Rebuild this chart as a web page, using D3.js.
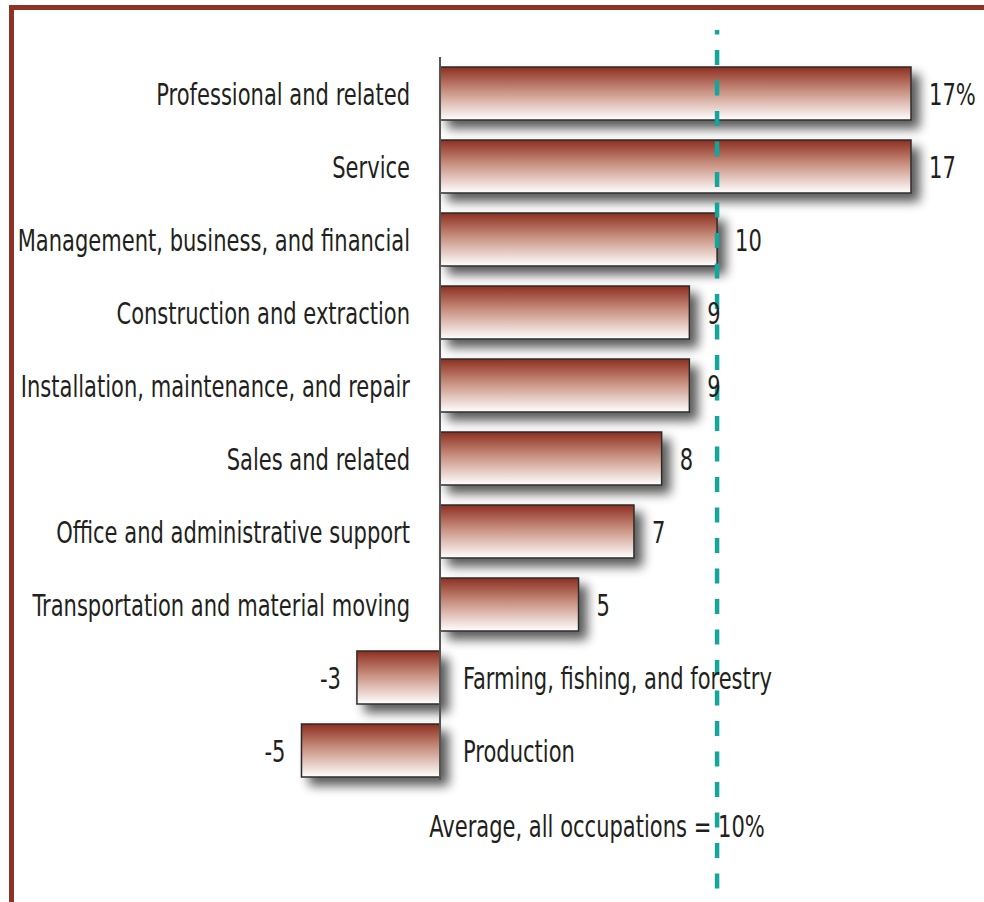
<!DOCTYPE html>
<html>
<head>
<meta charset="utf-8">
<script src="https://cdn.jsdelivr.net/npm/d3@7"></script>
<style>
  body { margin: 0; background: #fff; }
  svg text { font-family: "DejaVu Sans Condensed", "Liberation Sans Narrow", sans-serif; fill: #231f20; }
</style>
</head>
<body>
<svg id="chart" width="984" height="902"></svg>
<script>
// data
var categories = [
  "Professional and related",
  "Service",
  "Management, business, and financial",
  "Construction and extraction",
  "Installation, maintenance, and repair",
  "Sales and related",
  "Office and administrative support",
  "Transportation and material moving",
  "Farming, fishing, and forestry",
  "Production"
];
var values = [17, 17, 10, 9, 9, 8, 7, 5, -3, -5];
var valueLabels = ["17%", "17", "10", "9", "9", "8", "7", "5", "-3", "-5"];
var average = 10;
var averageLabel = "Average, all occupations = 10%";

var data = categories.map(function(c, i) {
  return { cat: c, value: values[i], label: valueLabels[i] };
});

var svg = d3.select("#chart");
var squeeze = 0.78;   // text is a tall condensed face
var fontSize = "30px";

// frame
svg.append("rect")
  .attr("x", 11.5).attr("y", 7.5)
  .attr("width", 1100).attr("height", 1000)
  .attr("fill", "none")
  .attr("stroke", "#8e3226")
  .attr("stroke-width", 5);

var defs = svg.append("defs");

var grad = defs.append("linearGradient")
  .attr("id", "barGrad")
  .attr("x1", 0).attr("y1", 0).attr("x2", 0).attr("y2", 1);
grad.append("stop").attr("offset", "0%").attr("stop-color", "#8d2f1f");
grad.append("stop").attr("offset", "45%").attr("stop-color", "#c89080");
grad.append("stop").attr("offset", "100%").attr("stop-color", "#ffffff");

var filter = defs.append("filter")
  .attr("id", "shadow")
  .attr("x", "-20%").attr("y", "-30%")
  .attr("width", "150%").attr("height", "190%");
filter.append("feGaussianBlur").attr("in", "SourceAlpha").attr("stdDeviation", 5.5).attr("result", "blur");
filter.append("feOffset").attr("in", "blur").attr("dx", 8).attr("dy", 8).attr("result", "off");
filter.append("feComponentTransfer").attr("in", "off").attr("result", "shadow")
  .append("feFuncA").attr("type", "linear").attr("slope", 0.65);
var merge = filter.append("feMerge");
merge.append("feMergeNode").attr("in", "shadow");
merge.append("feMergeNode").attr("in", "SourceGraphic");

var x = d3.scaleLinear()
  .domain([-5, 17])
  .range([301.5, 911]);

var y = d3.scaleBand()
  .domain(categories)
  .range([57, 787])
  .paddingInner(0.274)
  .paddingOuter(0.137);

// bars
svg.selectAll(".bar")
  .data(data)
  .enter().append("rect")
  .attr("class", "bar")
  .attr("x", function(d) { return x(Math.min(0, d.value)); })
  .attr("y", function(d) { return y(d.cat); })
  .attr("width", function(d) { return Math.abs(x(d.value) - x(0)); })
  .attr("height", y.bandwidth())
  .attr("fill", "url(#barGrad)")
  .attr("stroke", "#2b2b2b")
  .attr("stroke-width", 1.5)
  .attr("filter", "url(#shadow)");

// zero axis line
svg.append("line")
  .attr("x1", x(0)).attr("x2", x(0))
  .attr("y1", 57).attr("y2", 780)
  .attr("stroke", "#555")
  .attr("stroke-width", 2);

// average line
svg.append("line")
  .attr("x1", x(average)).attr("x2", x(average))
  .attr("y1", 30).attr("y2", 889)
  .attr("stroke", "#13a69c")
  .attr("stroke-width", 4.5)
  .attr("stroke-dasharray", "15,15.5")
  .attr("stroke-dashoffset", 10.5);

function squeezed(sel, fx, fy) {
  sel.attr("transform", function(d) {
      return "translate(" + fx(d) + "," + fy(d) + ") scale(" + squeeze + ",1)";
    })
    .attr("dy", "0.39em")
    .style("font-size", fontSize);
}

// category labels
svg.selectAll(".cat")
  .data(data)
  .enter().append("text")
  .attr("class", "cat")
  .call(squeezed,
    function(d) { return d.value >= 0 ? x(0) - 30 : x(0) + 23; },
    function(d) { return y(d.cat) + y.bandwidth() / 2; })
  .attr("text-anchor", function(d) { return d.value >= 0 ? "end" : "start"; })
  .text(function(d) { return d.cat; });

// value labels
svg.selectAll(".val")
  .data(data)
  .enter().append("text")
  .attr("class", "val")
  .call(squeezed,
    function(d) { return d.value >= 0 ? x(d.value) + 18 : x(d.value) - 16; },
    function(d) { return y(d.cat) + y.bandwidth() / 2; })
  .attr("text-anchor", function(d) { return d.value >= 0 ? "start" : "end"; })
  .text(function(d) { return d.label; });

// average label
svg.append("text")
  .datum(averageLabel)
  .call(squeezed, function() { return 597; }, function() { return 825; })
  .attr("text-anchor", "middle")
  .text(function(d) { return d; });
</script>
</body>
</html>
